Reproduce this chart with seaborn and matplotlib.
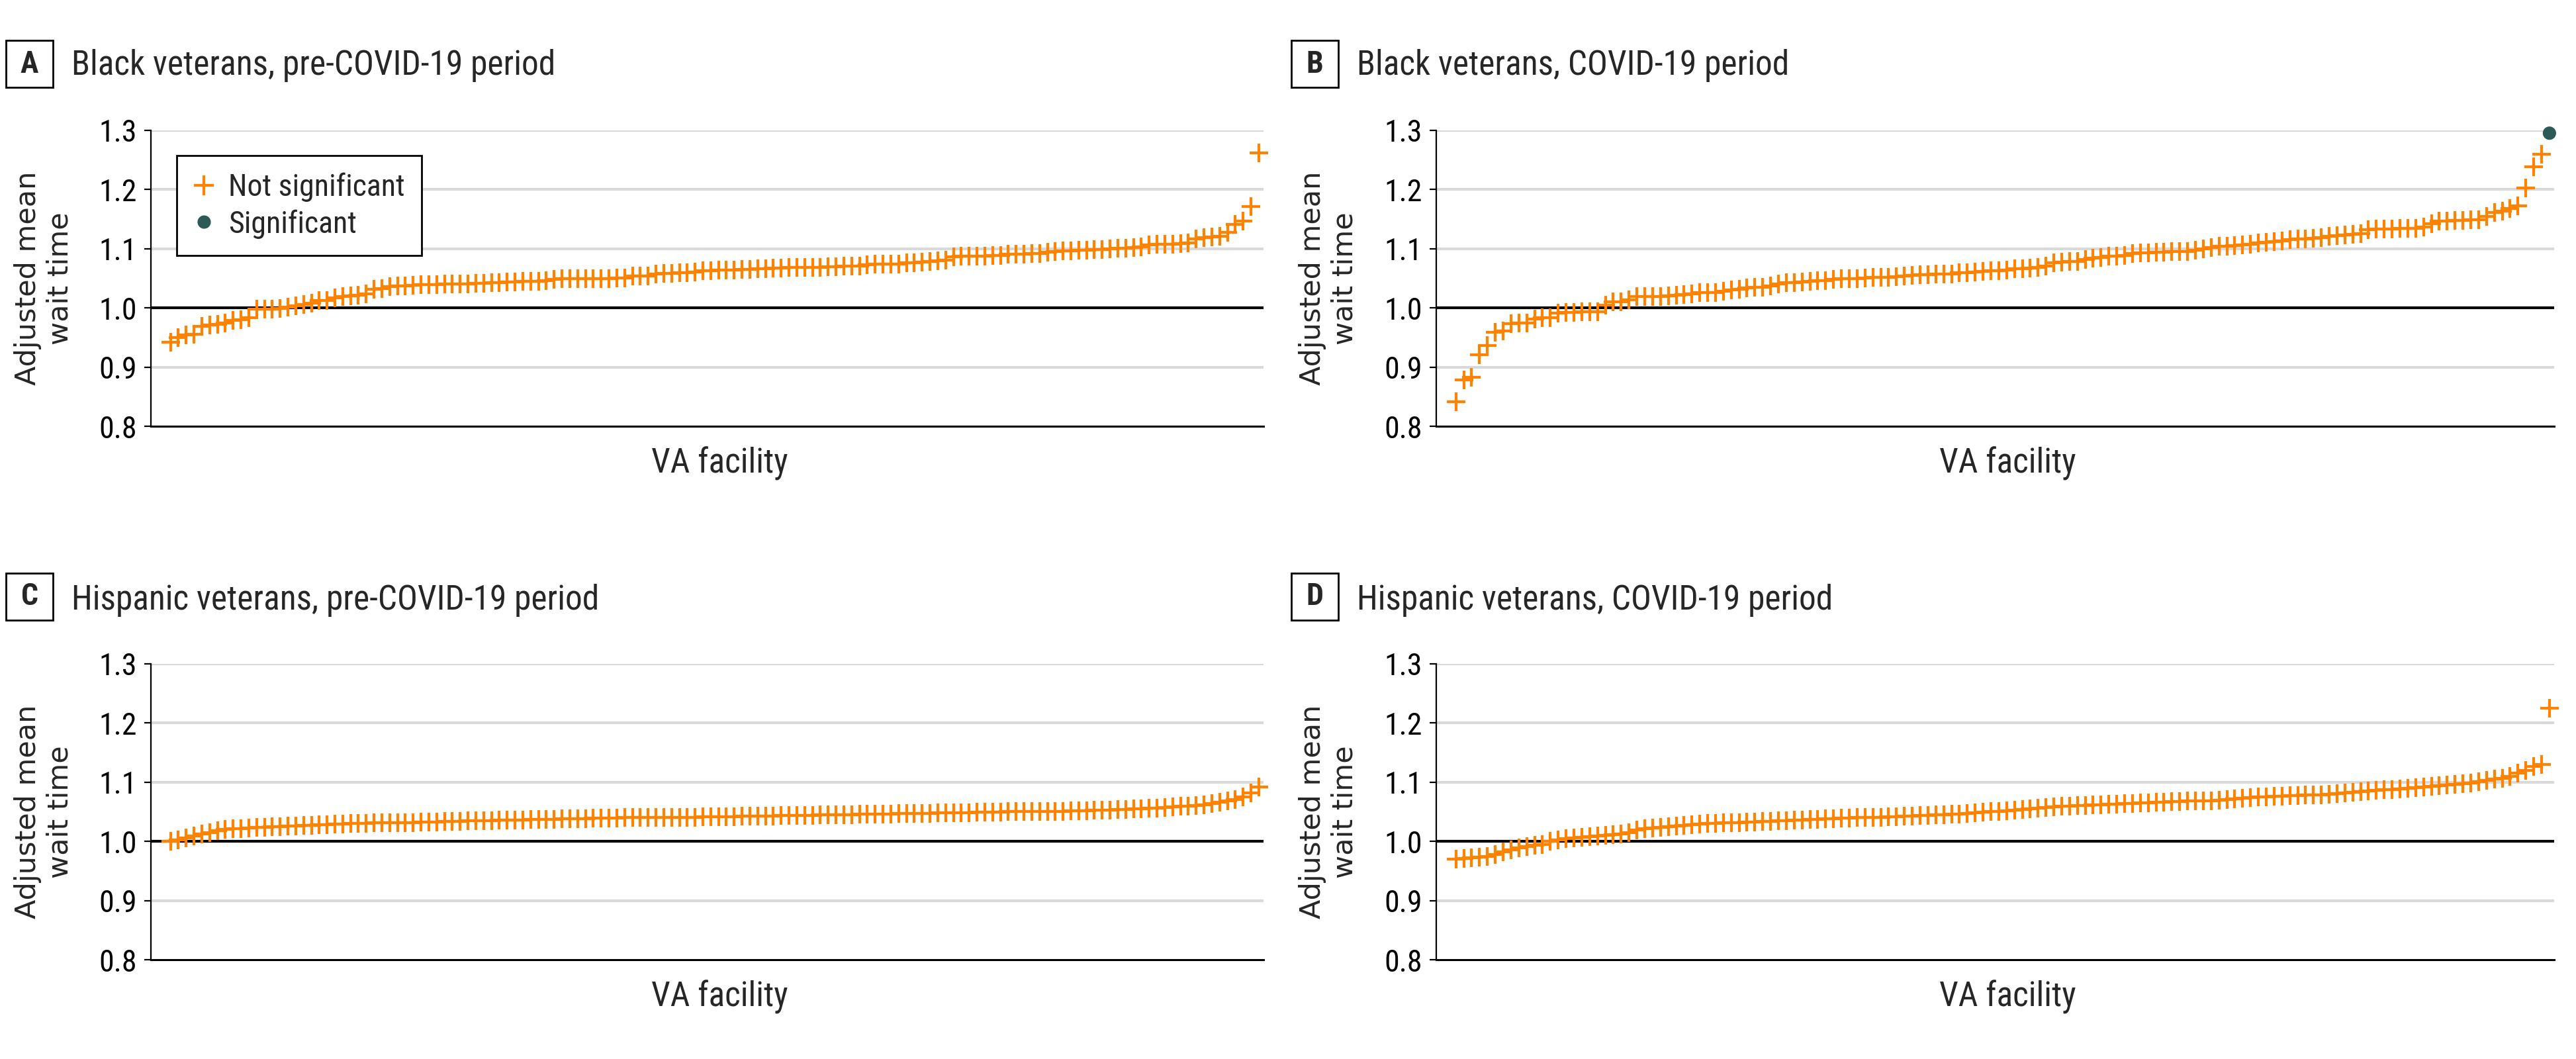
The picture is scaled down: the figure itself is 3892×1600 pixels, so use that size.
import numpy as np
import pandas as pd
import matplotlib
matplotlib.use("Agg")
import matplotlib.pyplot as plt
import matplotlib.font_manager as fm
from matplotlib.patches import Rectangle
from matplotlib.lines import Line2D
import seaborn as sns

# ---------------- data ----------------
panel_letters = ["A", "B", "C", "D"]
panel_titles = [
    "Black veterans, pre-COVID-19 period",
    "Black veterans, COVID-19 period",
    "Hispanic veterans, pre-COVID-19 period",
    "Hispanic veterans, COVID-19 period",
]

black_pre = [
    0.942, 0.950, 0.954, 0.955, 0.969, 0.971, 0.972, 0.974, 0.979, 0.980,
    0.984, 0.998, 0.998, 0.998, 0.999, 1.001, 1.004, 1.006, 1.008, 1.012,
    1.012, 1.017, 1.019, 1.020, 1.022, 1.024, 1.031, 1.033, 1.036, 1.037,
    1.037, 1.038, 1.039, 1.039, 1.039, 1.041, 1.041, 1.041, 1.041, 1.042,
    1.042, 1.043, 1.043, 1.044, 1.044, 1.045, 1.045, 1.045, 1.046, 1.048,
    1.049, 1.049, 1.049, 1.049, 1.0495, 1.0495, 1.050, 1.051, 1.051, 1.054,
    1.054, 1.054, 1.057, 1.058, 1.058, 1.059, 1.060, 1.061, 1.063, 1.063,
    1.064, 1.0645, 1.0645, 1.065, 1.065, 1.066, 1.066, 1.067, 1.067, 1.068,
    1.068, 1.069, 1.069, 1.069, 1.070, 1.070, 1.071, 1.071, 1.071, 1.073,
    1.074, 1.074, 1.0745, 1.0745, 1.076, 1.076, 1.0775, 1.079, 1.080, 1.081,
    1.086, 1.087, 1.0875, 1.088, 1.088, 1.089, 1.089, 1.0905, 1.0905, 1.091,
    1.092, 1.092, 1.094, 1.095, 1.096, 1.0965, 1.098, 1.098, 1.099, 1.099,
    1.0995, 1.1005, 1.101, 1.102, 1.1035, 1.106, 1.108, 1.108, 1.108, 1.109,
    1.110, 1.117, 1.119, 1.120, 1.121, 1.128, 1.1415, 1.147, 1.171, 1.262,
]

black_covid = [
    0.841, 0.878, 0.883, 0.921, 0.936, 0.959, 0.961, 0.973, 0.974, 0.975,
    0.981, 0.983, 0.983, 0.991, 0.9925, 0.9925, 0.994, 0.994, 0.994, 1.005,
    1.010, 1.010, 1.014, 1.019, 1.019, 1.019, 1.019, 1.0205, 1.022, 1.023,
    1.024, 1.026, 1.026, 1.026, 1.028, 1.0305, 1.032, 1.0335, 1.035, 1.035,
    1.037, 1.041, 1.043, 1.043, 1.0436, 1.0447, 1.0458, 1.0466, 1.048, 1.0495,
    1.0495, 1.050, 1.051, 1.052, 1.052, 1.052, 1.053, 1.054, 1.055, 1.056,
    1.0566, 1.0577, 1.0577, 1.0577, 1.059, 1.0596, 1.061, 1.0615, 1.0626, 1.063,
    1.0644, 1.066, 1.066, 1.067, 1.068, 1.071, 1.076, 1.077, 1.078, 1.079,
    1.082, 1.084, 1.0857, 1.0875, 1.0875, 1.089, 1.092, 1.093, 1.093, 1.094,
    1.094, 1.095, 1.095, 1.0957, 1.097, 1.0994, 1.1017, 1.104, 1.104, 1.105,
    1.106, 1.108, 1.110, 1.111, 1.112, 1.1136, 1.1155, 1.116, 1.117, 1.118,
    1.119, 1.121, 1.122, 1.123, 1.124, 1.125, 1.132, 1.133, 1.133, 1.1337,
    1.1345, 1.135, 1.135, 1.137, 1.1426, 1.147, 1.147, 1.148, 1.148, 1.1486,
    1.149, 1.1546, 1.161, 1.164, 1.1676, 1.1724, 1.2026, 1.238, 1.260, 1.2953,
]

hisp_pre = [
    1.000, 1.003, 1.006, 1.009, 1.012, 1.015, 1.018, 1.020, 1.021, 1.022,
    1.023, 1.024, 1.024, 1.025, 1.025, 1.026, 1.026, 1.027, 1.027, 1.028,
    1.028, 1.029, 1.029, 1.030, 1.030, 1.030, 1.031, 1.031, 1.031, 1.032,
    1.032, 1.032, 1.033, 1.033, 1.033, 1.034, 1.034, 1.034, 1.035, 1.035,
    1.035, 1.035, 1.036, 1.036, 1.036, 1.036, 1.037, 1.037, 1.037, 1.037,
    1.038, 1.038, 1.038, 1.038, 1.039, 1.039, 1.039, 1.039, 1.040, 1.040,
    1.040, 1.040, 1.040, 1.041, 1.041, 1.041, 1.041, 1.041, 1.042, 1.042,
    1.042, 1.042, 1.042, 1.043, 1.043, 1.043, 1.043, 1.043, 1.044, 1.044,
    1.044, 1.044, 1.044, 1.045, 1.045, 1.045, 1.045, 1.045, 1.046, 1.046,
    1.046, 1.046, 1.046, 1.047, 1.047, 1.047, 1.047, 1.047, 1.048, 1.048,
    1.048, 1.048, 1.048, 1.049, 1.049, 1.049, 1.049, 1.050, 1.050, 1.050,
    1.050, 1.051, 1.051, 1.051, 1.051, 1.052, 1.052, 1.052, 1.053, 1.053,
    1.053, 1.054, 1.054, 1.055, 1.055, 1.056, 1.056, 1.057, 1.058, 1.059,
    1.060, 1.061, 1.062, 1.064, 1.066, 1.068, 1.071, 1.075, 1.082, 1.092,
]

hisp_covid = [
    0.970, 0.971, 0.972, 0.973, 0.975, 0.978, 0.982, 0.986, 0.989, 0.991,
    0.993, 0.995, 1.000, 1.003, 1.005, 1.006, 1.007, 1.008, 1.009, 1.010,
    1.011, 1.012, 1.015, 1.019, 1.022, 1.023, 1.024, 1.025, 1.026, 1.027,
    1.028, 1.029, 1.030, 1.030, 1.031, 1.032, 1.032, 1.033, 1.033, 1.034,
    1.034, 1.035, 1.035, 1.036, 1.036, 1.037, 1.037, 1.038, 1.038, 1.039,
    1.039, 1.040, 1.040, 1.041, 1.041, 1.042, 1.042, 1.043, 1.043, 1.044,
    1.044, 1.045, 1.045, 1.046, 1.046, 1.047, 1.048, 1.049, 1.050, 1.051,
    1.052, 1.053, 1.054, 1.055, 1.056, 1.057, 1.058, 1.059, 1.060, 1.061,
    1.061, 1.062, 1.062, 1.063, 1.063, 1.064, 1.064, 1.065, 1.065, 1.066,
    1.066, 1.067, 1.067, 1.068, 1.068, 1.069, 1.069, 1.070, 1.071, 1.072,
    1.073, 1.074, 1.075, 1.075, 1.076, 1.076, 1.077, 1.077, 1.078, 1.078,
    1.079, 1.080, 1.081, 1.082, 1.083, 1.084, 1.085, 1.086, 1.087, 1.088,
    1.089, 1.090, 1.091, 1.092, 1.093, 1.094, 1.095, 1.096, 1.097, 1.099,
    1.101, 1.103, 1.105, 1.107, 1.110, 1.115, 1.120, 1.127, 1.130, 1.225,
]

# index of facilities flagged as significant (per panel)
significant_idx = [[], [139], [], []]

y_ticks = [0.8, 0.9, 1.0, 1.1, 1.2, 1.3]
y_tick_labels = ["0.8", "0.9", "1.0", "1.1", "1.2", "1.3"]
legend_labels = ["Not significant", "Significant"]

# ---------------- style ----------------
sns.set_style("white")
names = {f.name for f in fm.fontManager.ttflist}
cond_font = None
for cand in ["Liberation Sans Narrow", "Roboto Condensed", "Open Sans Condensed"]:
    if cand in names:
        cond_font = cand
        break
stretch = "normal"
if cond_font is None:
    cond_font = "DejaVu Sans"
    stretch = "condensed"
plt.rcParams["font.family"] = [cond_font, "DejaVu Sans"]

ORANGE = "#ff8300"
TEAL = "#2b5a57"
GRID = "#d9d9d9"

W, H = 3892, 1600
fig = plt.figure(figsize=(W / 100, H / 100), dpi=100)
fig.patch.set_facecolor("white")

# axes positions in pixels (left, right, top(1.3), bottom(0.8))
ax_px = [
    (228, 1909, 197, 644),
    (2170, 3859, 197, 644),
    (228, 1909, 1003, 1450),
    (2170, 3859, 1003, 1450),
]
box_px = [(9, 61), (1951, 61), (9, 866), (1951, 866)]
title_px = [(108, 113), (2050, 113), (108, 921), (2050, 921)]

series = [black_pre, black_covid, hisp_pre, hisp_covid]

for i, vals in enumerate(series):
    l, r, t, b = ax_px[i]
    ax = fig.add_axes([l / W, 1 - b / H, (r - l) / W, (b - t) / H])
    n = len(vals)
    df = pd.DataFrame({
        "facility": np.arange(1, n + 1),
        "wait": vals,
        "sig": ["Significant" if k in significant_idx[i] else "Not significant" for k in range(n)],
    })
    # gridlines
    for yv in y_ticks:
        if yv == 0.8:
            continue
        if yv == 1.0:
            ax.axhline(yv, color="black", lw=3.0, zorder=2)
        else:
            ax.axhline(yv, color=GRID, lw=3.0, zorder=1)
    ns = df[df["sig"] == "Not significant"]
    sg = df[df["sig"] == "Significant"]
    sns.scatterplot(data=ns, x="facility", y="wait", marker="+", s=430,
                    color=ORANGE, linewidth=3.0, ax=ax, zorder=3, legend=False,
                    clip_on=False)
    if len(sg):
        sns.scatterplot(data=sg, x="facility", y="wait", marker="o", s=210,
                        color=TEAL, edgecolor="none", ax=ax, zorder=4, legend=False,
                        clip_on=False)

    ax.set_xlim(-1.5, n + 0.6)
    ax.set_ylim(0.8, 1.3)
    ax.set_yticks(y_ticks)
    ax.set_yticklabels(y_tick_labels, fontsize=33, fontstretch=stretch)
    ax.set_xticks([])
    ax.tick_params(axis="y", direction="out", length=7, width=1.6, pad=8, left=True, colors="black")
    for s in ["top", "right"]:
        ax.spines[s].set_visible(False)
    ax.spines["left"].set_linewidth(1.6)
    ax.spines["left"].set_color("black")
    ax.spines["bottom"].set_linewidth(2.2)
    ax.spines["bottom"].set_color("black")
    ax.set_facecolor("white")

    ax.set_xlabel("VA facility", fontsize=37, fontstretch=stretch, va="top")
    ax.xaxis.set_label_coords(0.511, -0.068)
    ax.set_ylabel("Adjusted mean\nwait time", fontsize=31, family="DejaVu Sans",
                  linespacing=1.2, va="center", ha="center")
    ax.yaxis.set_label_coords(-0.0964, 0.5)

    # panel letter box + title
    bx, by = box_px[i]
    fig.add_artist(Rectangle((bx / W, 1 - (by + 71) / H), 71 / W, 71 / H,
                             transform=fig.transFigure, fill=False, lw=2.0,
                             edgecolor="black"))
    fig.text((bx + 35.5) / W, 1 - (by + 35.5) / H, panel_letters[i], fontsize=33,
             fontweight="bold", ha="center", va="center", fontstretch=stretch)
    tx, ty = title_px[i]
    fig.text(tx / W, 1 - ty / H, panel_titles[i], fontsize=37, ha="left",
             va="baseline", fontstretch=stretch)

    if i == 0:
        handles = [
            Line2D([], [], marker="+", linestyle="none", color=ORANGE,
                   markersize=21, markeredgewidth=3.0),
            Line2D([], [], marker="o", linestyle="none", color=TEAL,
                   markersize=14.5, markeredgewidth=0),
        ]
        leg = ax.legend(handles, legend_labels, loc="upper left",
                        bbox_to_anchor=(0.0232, 0.915), borderaxespad=0,
                        fontsize=33, frameon=True, fancybox=False,
                        edgecolor="black", framealpha=1, handlelength=0.7,
                        handletextpad=0.45, labelspacing=0.25, borderpad=0.55,
                        prop={"size": 33, "stretch": stretch})
        leg.get_frame().set_linewidth(2.0)

fig.savefig("out.png", dpi=100, facecolor="white")
